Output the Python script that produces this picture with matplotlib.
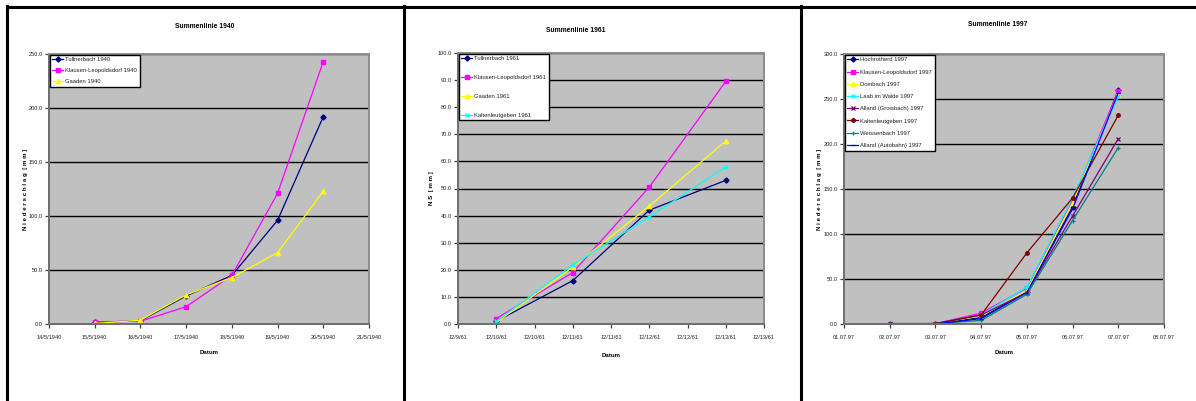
from datetime import datetime, timedelta

import matplotlib
matplotlib.use("Agg")
import matplotlib.dates as mdates
import matplotlib.pyplot as plt
from matplotlib import font_manager
from matplotlib.lines import Line2D
from matplotlib.ticker import FuncFormatter

# the original uses a narrow Arial; fall back to a smaller regular face
_names = {f.name for f in font_manager.fontManager.ttflist}
if "Liberation Sans Narrow" in _names:
    plt.rcParams["font.family"] = ["Liberation Sans Narrow", "DejaVu Sans"]
    S = 1.0
else:
    plt.rcParams["font.family"] = ["Liberation Sans", "DejaVu Sans"]
    S = 0.76

# --- data -------------------------------------------------------------
dates_1940 = [datetime(1940, 5, d) for d in (15, 16, 17, 18, 19, 20)]
tullnerbach_1940 = [1.5, 3.0, 26.0, 45.0, 96.0, 192.0]
klausen_1940 = [2.0, 2.5, 16.0, 45.0, 121.0, 243.0]
gaaden_1940 = [0.5, 3.5, 27.0, 43.0, 66.0, 123.0]

dates_1961 = [datetime(1961, 12, d) for d in (10, 11, 12, 13)]
tullnerbach_1961 = [1.0, 16.0, 42.0, 53.0]
klausen_1961 = [2.0, 19.0, 50.5, 89.5]
gaaden_1961 = [0.5, 21.0, 43.5, 67.5]
kalten_1961 = [1.0, 21.8, 39.5, 58.0]

dates_1997 = [datetime(1997, 7, d) for d in (2, 3, 4, 5, 6, 7)]
hochrotherd_1997 = [0.0, 0.5, 7.0, 36.0, 130.0, 260.0]
klausen_1997 = [0.5, 0.5, 12.0, 40.0, 137.0, 259.0]
dombach_1997 = [0.0, 0.5, 9.0, 37.0, 135.0, 256.0]
laab_1997 = [0.0, 0.5, 10.0, 41.0, 140.0, 253.0]
groisbach_1997 = [0.0, 0.5, 10.0, 35.0, 120.0, 206.0]
kalten_1997 = [0.5, 0.5, 10.0, 79.0, 140.0, 232.0]
weissenbach_1997 = [0.0, 0.5, 4.0, 33.0, 115.0, 196.0]
autobahn_1997 = [0.0, 0.0, 6.0, 35.0, 128.0, 257.0]

# --- layout helpers ---------------------------------------------------
W, H = 1196, 401
fig = plt.figure(figsize=(W / 100, H / 100), dpi=100)
fig.patch.set_facecolor("white")

TICK_FS = 5.4 * S
LEG_FS = 5.6 * S
LAB_FS = 5.8 * S
TITLE_FS = 6.4 * S


def px_axes(left, top, right, bottom):
    return fig.add_axes([left / W, 1 - bottom / H, (right - left) / W, (bottom - top) / H])


def fig_line(xs, ys, lw=2.2):
    fig.add_artist(Line2D([x / W for x in xs], [1 - y / H for y in ys],
                          color="black", lw=lw, transform=fig.transFigure))


def style_axes(ax, ymax, ystep):
    ax.set_facecolor("#c0c0c0")
    ax.set_ylim(0, ymax)
    ax.set_yticks([i * ystep for i in range(int(round(ymax / ystep)) + 1)])
    ax.yaxis.set_major_formatter(FuncFormatter(lambda v, p: f"{v:.1f}"))
    ax.grid(axis="y", color="black", lw=1.0)
    ax.set_axisbelow(True)
    for name, sp in ax.spines.items():
        sp.set_color("#6e6e6e" if name in ("left", "bottom") else "#8c8c8c")
        sp.set_linewidth(1.4)
    ax.tick_params(axis="both", direction="out", length=3, width=0.9, color="#404040",
                   labelsize=TICK_FS, labelcolor="#202020", pad=1.5)
    ax.tick_params(axis="x", pad=5)


def legend(ax, spacing):
    leg = ax.legend(loc="upper left", bbox_to_anchor=(0.0, 1.0), borderaxespad=0.1,
                    fontsize=LEG_FS, frameon=True, fancybox=False, framealpha=1,
                    edgecolor="black", handlelength=1.9, handletextpad=0.3,
                    labelspacing=spacing, borderpad=0.45)
    leg.get_frame().set_linewidth(1.0)
    for t in leg.get_texts():
        t.set_color("#202020")


def ylabel(ax, text, right_px, left_px, width_px):
    ax.set_ylabel(text, fontsize=LAB_FS, fontweight="bold")
    ax.yaxis.set_label_coords((right_px - left_px) / width_px, 0.5)


line_kw = dict(lw=0.9, markersize=3.2)

# --- panel borders ----------------------------------------------------
fig_line([7, W], [6.5, 6.5])
for x in (7, 403.5, 800.5):
    fig_line([x, x], [6, H])

# --- 1940 -------------------------------------------------------------
ax1 = px_axes(49, 54, 369, 324)
ax1.plot(dates_1940, tullnerbach_1940, color="#000080", marker="D", markersize=2.6,
         lw=0.9, label="Tullnerbach 1940")
ax1.plot(dates_1940, klausen_1940, color="#ff00ff", marker="s", label="Klausen-Leopoldsdorf 1940", **line_kw)
ax1.plot(dates_1940, gaaden_1940, color="#ffff00", marker="^", label="Gaaden 1940", **line_kw)
ax1.set_xlim(datetime(1940, 5, 14), datetime(1940, 5, 21))
ax1.xaxis.set_major_locator(mdates.DayLocator())
ax1.xaxis.set_major_formatter(FuncFormatter(
    lambda v, p: (lambda d: f"{d.day}/{d.month}/{d.year}")(mdates.num2date(v))))
style_axes(ax1, 250, 50)
legend(ax1, 0.95)
ax1.set_xlabel("Datum", fontsize=LAB_FS, fontweight="bold", labelpad=7)
ylabel(ax1, "N i e d e r s c h l a g  [ m m ]", 28, 49, 320)
fig.text(205 / W, 1 - 26 / H, "Summenlinie 1940", ha="center", va="center",
         fontsize=TITLE_FS, fontweight="bold")

# --- 1961 -------------------------------------------------------------
ax2 = px_axes(458, 53, 764, 324)
ax2.plot(dates_1961, tullnerbach_1961, color="#000080", marker="D", markersize=2.6,
         lw=0.9, label="Tullnerbach 1961")
ax2.plot(dates_1961, klausen_1961, color="#ff00ff", marker="s", label="Klausen-Leopoldsdorf 1961", **line_kw)
ax2.plot(dates_1961, gaaden_1961, color="#ffff00", marker="^", label="Gaaden 1961", **line_kw)
ax2.plot(dates_1961, kalten_1961, color="#00ffff", marker="x", mew=0.9, label="Kaltenleutgeben 1961", **line_kw)
start_1961 = datetime(1961, 12, 9, 12)
ax2.set_xlim(start_1961, start_1961 + timedelta(days=4))
ax2.set_xticks([start_1961 + timedelta(hours=12 * i) for i in range(9)])
ax2.xaxis.set_major_formatter(FuncFormatter(
    lambda v, p: (lambda d: f"{d.month}/{d.day}/{d.year % 100}")(mdates.num2date(v))))
style_axes(ax2, 100, 10)
legend(ax2, 2.3)
ax2.set_xlabel("Datum", fontsize=LAB_FS, fontweight="bold", labelpad=9)
ylabel(ax2, "N S  [ m m ]", 434, 458, 306)
fig.text(576 / W, 1 - 31 / H, "Summenlinie 1961", ha="center", va="center",
         fontsize=TITLE_FS, fontweight="bold")

# --- 1997 -------------------------------------------------------------
ax3 = px_axes(844, 54, 1164, 324)
series_1997 = [
    ("Hochrotherd 1997", hochrotherd_1997, "#000080", "D"),
    ("Klausen-Leopoldsdorf 1997", klausen_1997, "#ff00ff", "s"),
    ("Dombach 1997", dombach_1997, "#ffff00", "^"),
    ("Laab im Walde 1997", laab_1997, "#00ffff", "x"),
    ("Alland (Groisbach) 1997", groisbach_1997, "#800080", "x"),
    ("Kaltenleutgeben 1997", kalten_1997, "#800000", "o"),
    ("Weissenbach 1997", weissenbach_1997, "#008080", "+"),
    ("Alland (Autobahn) 1997", autobahn_1997, "#0000ff", "_"),
]
for label, values, color, marker in series_1997:
    ms = 2.6 if marker in ("D", "o") else 3.2
    ax3.plot(dates_1997, values, color=color, marker=marker, markersize=ms, mew=0.9,
             lw=0.9, label=label)
ax3.set_xlim(datetime(1997, 7, 1), datetime(1997, 7, 8))
ax3.xaxis.set_major_locator(mdates.DayLocator())
ax3.xaxis.set_major_formatter(mdates.DateFormatter("%d.%m.%y"))
style_axes(ax3, 300, 50)
legend(ax3, 1.2)
ax3.set_xlabel("Datum", fontsize=LAB_FS, fontweight="bold", labelpad=7)
ylabel(ax3, "N i e d e r s c h l a g  [ m m ]", 822, 844, 320)
fig.text(998 / W, 1 - 25 / H, "Summenlinie 1997", ha="center", va="center",
         fontsize=TITLE_FS, fontweight="bold")

fig.savefig("out.png", dpi=100, facecolor="white")
